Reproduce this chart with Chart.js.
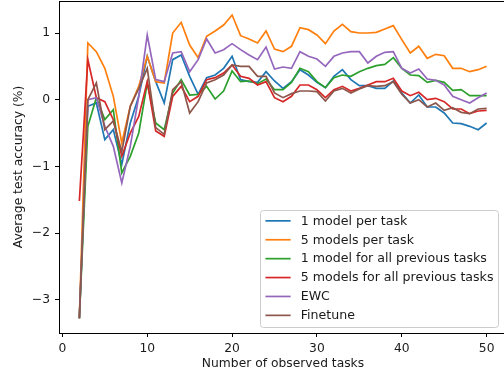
<!DOCTYPE html>
<html>
<head>
<meta charset="utf-8">
<script src="https://cdn.jsdelivr.net/npm/chart.js@4/dist/chart.umd.min.js"></script>
<style>
html, body { margin: 0; padding: 0; background: #fff; overflow: hidden; }
#wrap { width: 504px; height: 379px; overflow: hidden; }
</style>
</head>
<body>
<div id="wrap"><canvas id="accChart" width="507" height="379"></canvas></div>
<script>
// number of observed tasks (x)
var tasks = [2, 3, 4, 5, 6, 7, 8, 9, 10, 11, 12, 13, 14, 15, 16, 17, 18, 19, 20, 21,
  22, 23, 24, 25, 26, 27, 28, 29, 30, 31, 32, 33, 34, 35, 36, 37, 38, 39, 40, 41,
  42, 43, 44, 45, 46, 47, 48, 49, 50];

var onePerTask = [-3.28, -0.1, -0.05, -0.6, -0.45, -0.97, -0.35, 0.05, 0.65, 0.27,
  -0.05, 0.6, 0.67, 0.35, 0.08, 0.33, 0.37, 0.47, 0.65, 0.3,
  0.27, 0.26, 0.42, 0.28, 0.17, 0.27, 0.45, 0.37, 0.26, 0.18,
  0.35, 0.45, 0.3, 0.21, 0.21, 0.17, 0.17, 0.28, 0.1, -0.05,
  0.07, -0.11, -0.11, -0.2, -0.35, -0.36, -0.4, -0.45, -0.35];

var fivePerTask = [-3.28, 0.85, 0.72, 0.47, 0.05, -0.65, -0.1, 0.2, 0.65, 0.27,
  0.25, 1.0, 1.16, 0.82, 0.63, 0.95, 1.03, 1.12, 1.27, 0.96,
  0.91, 0.85, 1.03, 0.76, 0.72, 0.8, 1.08, 1.05, 0.97, 0.84,
  1.03, 1.13, 1.02, 1.0, 1.0, 1.01, 1.06, 1.11, 0.9, 0.7,
  0.8, 0.62, 0.68, 0.66, 0.47, 0.47, 0.42, 0.45, 0.5];

var oneForAll = [-3.28, -0.4, 0.03, -0.3, -0.15, -1.1, -0.85, -0.5, 0.25, -0.35,
  -0.45, 0.1, 0.3, 0.07, 0.08, 0.2, 0.01, 0.13, 0.43, 0.27,
  0.28, 0.24, 0.31, 0.15, 0.15, 0.26, 0.47, 0.42, 0.27, 0.18,
  0.33, 0.37, 0.35, 0.42, 0.47, 0.51, 0.53, 0.63, 0.47, 0.37,
  0.36, 0.26, 0.29, 0.26, 0.14, 0.15, 0.06, 0.06, 0.06];

var fiveForAll = [-1.52, 0.6, 0.03, -0.03, -0.3, -0.85, -0.5, -0.25, 0.27, -0.47,
  -0.55, 0.05, 0.2, -0.03, 0.05, 0.3, 0.33, 0.4, 0.52, 0.35,
  0.32, 0.22, 0.27, 0.03, -0.03, 0.05, 0.22, 0.22, 0.15, 0.03,
  0.15, 0.2, 0.13, 0.17, 0.22, 0.27, 0.27, 0.32, 0.13, 0.06,
  0.11, 0.0, 0.02, -0.03, -0.14, -0.14, -0.21, -0.17, -0.16];

var ewc = [-3.28, 0.0, 0.03, -0.4, -0.7, -1.25, -0.7, 0.05, 0.97, 0.3,
  0.27, 0.7, 0.72, 0.42, 0.6, 0.91, 0.7, 0.75, 0.84, 0.75,
  0.67, 0.6, 0.79, 0.46, 0.49, 0.47, 0.72, 0.65, 0.61, 0.5,
  0.65, 0.7, 0.72, 0.72, 0.55, 0.65, 0.71, 0.72, 0.47, 0.4,
  0.46, 0.31, 0.29, 0.22, 0.05, 0.0, -0.05, 0.03, 0.1];

var finetune = [-3.28, 0.0, 0.25, -0.45, -0.32, -0.78, -0.1, 0.17, 0.47, -0.42,
  -0.52, 0.15, 0.27, -0.2, -0.03, 0.25, 0.3, 0.37, 0.52, 0.5,
  0.5, 0.35, 0.35, 0.1, 0.03, 0.09, 0.13, 0.13, 0.12, -0.02,
  0.13, 0.17, 0.1, 0.16, 0.21, 0.2, 0.21, 0.27, 0.08, -0.05,
  0.0, -0.11, -0.05, -0.16, -0.12, -0.19, -0.21, -0.14, -0.13];

var seriesNames = ['1 model per task', '5 models per task', '1 model for all previous tasks',
  '5 models for all previous tasks', 'EWC', 'Finetune'];
var seriesValues = [onePerTask, fivePerTask, oneForAll, fiveForAll, ewc, finetune];
var seriesColors = ['#1f77b4', '#ff7f0e', '#2ca02c', '#d62728', '#9467bd', '#8c564b'];

var xTicks = [0, 10, 20, 30, 40, 50];
var yTicks = [-3, -2, -1, 0, 1];

var FONT = '"DejaVu Sans", sans-serif';
var FS = 12.3;      // axis text
var LFS = 12.6;     // legend text
var INK = '#1a1a1a';

function fmt(v) {
  return v < 0 ? '\u2212' + Math.abs(v) : String(v);
}

var datasets = seriesNames.map(function (name, i) {
  return {
    label: name,
    data: tasks.map(function (t, j) { return { x: t, y: seriesValues[i][j] }; }),
    borderColor: seriesColors[i],
    backgroundColor: seriesColors[i],
    borderWidth: 1.7,
    pointRadius: 0,
    tension: 0,
    order: seriesNames.length - i   // later series drawn on top
  };
});

// top spine (right spine falls outside the picture)
var frame = {
  id: 'frame',
  afterDraw: function (chart) {
    var a = chart.chartArea, ctx = chart.ctx;
    ctx.save();
    ctx.strokeStyle = '#000';
    ctx.lineWidth = 1;
    ctx.beginPath();
    ctx.moveTo(Math.round(a.left) + 0.5, Math.round(a.top) + 0.5);
    ctx.lineTo(a.right, Math.round(a.top) + 0.5);
    ctx.stroke();
    ctx.restore();
  }
};

// matplotlib-like legend box, lower right of the axes
var boxLegend = {
  id: 'boxLegend',
  afterDraw: function (chart) {
    var a = chart.chartArea, ctx = chart.ctx;
    var pad = 0.4 * LFS, handle = 2 * LFS, gap = 0.8 * LFS, rowH = LFS, spacing = 0.5 * LFS;
    ctx.save();
    ctx.font = LFS + 'px ' + FONT;
    var w = 0;
    chart.data.datasets.forEach(function (d) { w = Math.max(w, ctx.measureText(d.label).width); });
    var n = chart.data.datasets.length;
    var bw = pad * 2 + handle + gap + w;
    var bh = pad * 2 + n * rowH + (n - 1) * spacing;
    var right = 498.5, bottom = a.bottom - 0.5 * LFS;
    var x0 = right - bw, y0 = bottom - bh;
    ctx.beginPath();
    ctx.roundRect(Math.round(x0) + 0.5, Math.round(y0) + 0.5, Math.round(bw), Math.round(bh), 3);
    ctx.fillStyle = 'rgba(255,255,255,0.8)';
    ctx.fill();
    ctx.strokeStyle = '#cccccc';
    ctx.lineWidth = 1;
    ctx.stroke();
    ctx.textBaseline = 'middle';
    chart.data.datasets.forEach(function (d, i) {
      var cy = y0 + pad + rowH / 2 + i * (rowH + spacing);
      ctx.strokeStyle = d.borderColor;
      ctx.lineWidth = 1.7;
      ctx.beginPath();
      ctx.moveTo(x0 + pad, cy);
      ctx.lineTo(x0 + pad + handle, cy);
      ctx.stroke();
      ctx.fillStyle = INK;
      ctx.fillText(d.label, x0 + pad + handle + gap, cy + 0.5);
    });
    ctx.restore();
  }
};

function noPad(s) {
  s.paddingTop = 0; s.paddingBottom = 0; s.paddingLeft = 0; s.paddingRight = 0;
}

var ctx = document.getElementById('accChart');

var myChart = new Chart(ctx, {
  type: 'line',
  data: { datasets: datasets },
  options: {
    responsive: false,
    animation: false,
    events: [],
    layout: { padding: { top: 1, right: 0, left: 0, bottom: 0 } },
    plugins: { legend: { display: false }, tooltip: { enabled: false } },
    scales: {
      x: {
        type: 'linear',
        min: -0.4,
        max: 52.4,
        afterBuildTicks: function (s) { s.ticks = xTicks.map(function (v) { return { value: v }; }); },
        afterFit: function (s) { s.height = 46; noPad(s); },
        grid: { drawOnChartArea: false, drawTicks: true, tickLength: 4, color: '#000', lineWidth: 1 },
        border: { display: true, color: '#000', width: 1 },
        ticks: { color: INK, font: { family: FONT, size: FS }, padding: 4, maxRotation: 0, callback: fmt },
        title: { display: true, text: 'Number of observed tasks', color: INK,
                 font: { family: FONT, size: FS }, padding: { top: 0, bottom: 7.5 } }
      },
      y: {
        type: 'linear',
        min: -3.5,
        max: 1.48,
        afterBuildTicks: function (s) { s.ticks = yTicks.map(function (v) { return { value: v }; }); },
        afterFit: function (s) { s.width = 59; noPad(s); },
        grid: { drawOnChartArea: false, drawTicks: true, tickLength: 4, color: '#000', lineWidth: 1 },
        border: { display: true, color: '#000', width: 1 },
        ticks: { color: INK, font: { family: FONT, size: FS }, padding: 5, callback: fmt },
        title: { display: true, text: 'Average test accuracy (%)', color: INK,
                 font: { family: FONT, size: FS }, padding: { top: 11, bottom: 0 } }
      }
    }
  },
  plugins: [frame, boxLegend]
});
</script>
</body>
</html>
